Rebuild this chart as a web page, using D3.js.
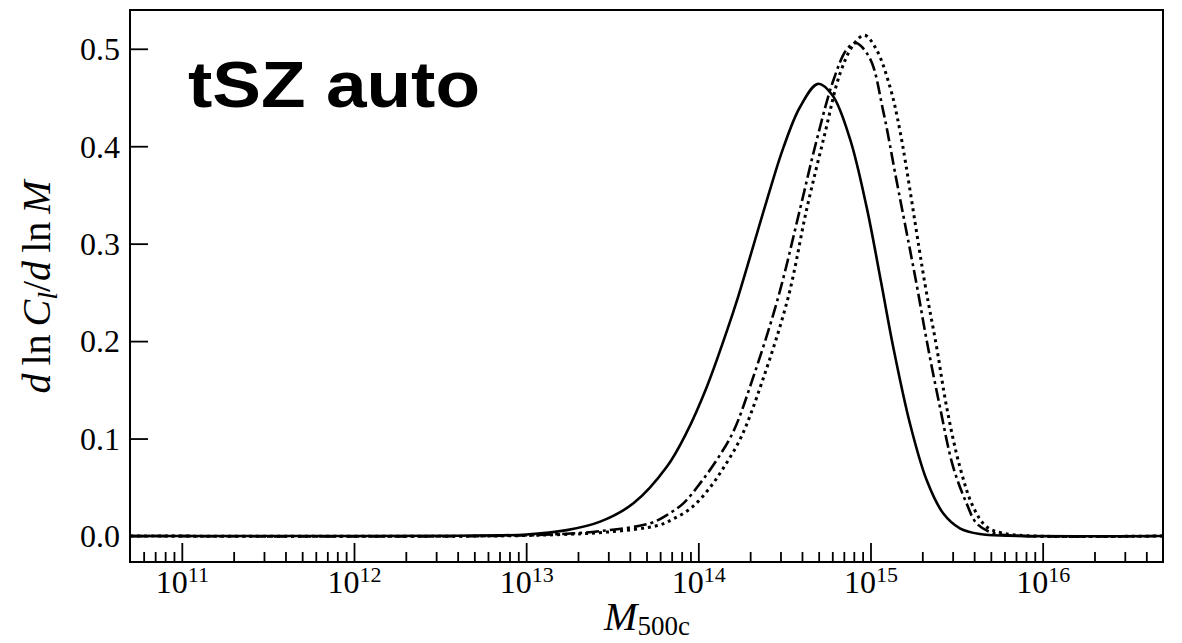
<!DOCTYPE html>
<html>
<head>
<meta charset="utf-8">
<script src="https://cdn.jsdelivr.net/npm/d3@7"></script>
<style>
  body { margin: 0; background: #fff; }
  svg { display: block; }
</style>
</head>
<body>
<div id="chart"></div>
<script>
// log10(M500c) and d lnC / d lnM
var solidLogM = [10.7, 12.0, 12.6, 13.0, 13.236, 13.43, 13.623, 13.817, 13.93, 14.049, 14.165, 14.232, 14.397, 14.493, 14.59, 14.695, 14.78, 14.88, 14.977, 15.06, 15.132, 15.229, 15.326, 15.422, 15.519, 15.635, 15.8, 16.7];
var solidVals = [0, 0, 0.0003, 0.0015, 0.006, 0.0147, 0.0335, 0.071, 0.1055, 0.153, 0.21, 0.246, 0.344, 0.398, 0.44, 0.464, 0.452, 0.408, 0.338, 0.262, 0.194, 0.1155, 0.0574, 0.0233, 0.0079, 0.002, 0.0003, 0];

var dashDotLogM = [10.7, 12.8, 13.2, 13.429, 13.72, 13.817, 13.913, 14.01, 14.107, 14.203, 14.319, 14.464, 14.59, 14.687, 14.784, 14.861, 14.915, 14.997, 15.074, 15.151, 15.267, 15.326, 15.403, 15.48, 15.558, 15.616, 15.712, 15.9, 16.7];
var dashDotVals = [0, 0, 0.002, 0.005, 0.013, 0.0215, 0.0335, 0.054, 0.078, 0.107, 0.163, 0.245, 0.335, 0.406, 0.4675, 0.499, 0.506, 0.49, 0.436, 0.365, 0.259, 0.201, 0.1326, 0.071, 0.0335, 0.013, 0.003, 0, 0];

var dottedLogM = [10.7, 12.8, 13.2, 13.47, 13.77, 13.86, 13.96, 14.06, 14.15, 14.25, 14.37, 14.522, 14.629, 14.735, 14.822, 14.9, 14.965, 15.035, 15.113, 15.171, 15.316, 15.384, 15.442, 15.519, 15.596, 15.674, 15.768, 15.95, 16.7];
var dottedVals = [0, 0, 0.0015, 0.004, 0.011, 0.018, 0.029, 0.048, 0.071, 0.102, 0.158, 0.245, 0.335, 0.413, 0.474, 0.504, 0.514, 0.499, 0.461, 0.416, 0.259, 0.194, 0.1326, 0.071, 0.030, 0.0095, 0.003, 0, 0];

var xTickExps = [11, 12, 13, 14, 15, 16];
var yTicks = [0, 0.1, 0.2, 0.3, 0.4, 0.5];
var titleText = "tSZ auto";

var W = 1182, H = 643;
var margin = {top: 10, right: 19, bottom: 81, left: 130};
var width = W - margin.left - margin.right;
var height = H - margin.top - margin.bottom;

var svg = d3.select("#chart").append("svg")
    .attr("width", W)
    .attr("height", H);

var g = svg.append("g")
    .attr("transform", "translate(" + margin.left + "," + margin.top + ")");

var x = d3.scaleLog()
    .domain([5e10, 5e16])
    .range([0, width]);

var y = d3.scaleLinear()
    .domain([-0.0267, 0.5398])
    .range([height, 0]);

// clip the curves to the frame
svg.append("defs").append("clipPath")
    .attr("id", "plotclip")
  .append("rect")
    .attr("width", width)
    .attr("height", height);

// minor ticks: 2..9 x 10^k inside the domain
var minorTicks = [];
for (var e = 10; e <= 16; e++) {
  for (var m = 2; m <= 9; m++) {
    var v = m * Math.pow(10, e);
    if (v > 5e10 && v < 5e16) minorTicks.push(v);
  }
}
var majorTicks = xTickExps.map(function(k) { return Math.pow(10, k); });

var tickStyle = function(sel) {
  sel.select(".domain").remove();
  sel.selectAll(".tick line").attr("stroke", "#000").attr("stroke-width", 1.8);
};

g.append("g")
    .attr("transform", "translate(0," + height + ")")
    .call(d3.axisBottom(x).tickValues(minorTicks).tickSize(-10).tickFormat(""))
    .call(tickStyle);

var xAxis = g.append("g")
    .attr("transform", "translate(0," + height + ")")
    .call(d3.axisBottom(x).tickValues(majorTicks).tickSize(-19).tickFormat(""))
    .call(tickStyle);

// 10^k labels
xAxis.selectAll(".tick").each(function(d, i) {
  var t = d3.select(this).append("text")
      .attr("y", 31)
      .attr("text-anchor", "middle")
      .attr("fill", "#000")
      .style("font-family", "'Liberation Serif', 'DejaVu Serif', serif")
      .style("font-size", "32px");
  t.append("tspan").text("10");
  t.append("tspan")
      .attr("dy", -11)
      .style("font-size", "22px")
      .text(xTickExps[i]);
});

var yAxis = g.append("g")
    .call(d3.axisLeft(y).tickValues(yTicks).tickSize(-18).tickPadding(10).tickFormat(d3.format(".1f")))
    .call(tickStyle);

yAxis.selectAll(".tick text")
    .attr("x", -10)
    .attr("dy", "0.34em")
    .attr("fill", "#000")
    .style("font-family", "'Liberation Serif', 'DejaVu Serif', serif")
    .style("font-size", "32px");

// curves
var line = d3.line()
    .x(function(d) { return x(Math.pow(10, d[0])); })
    .y(function(d) { return y(d[1]); })
    .curve(d3.curveCatmullRom.alpha(0.5));

var series = [
  {lm: dottedLogM, v: dottedVals, dash: "3,4", w: 3},
  {lm: dashDotLogM, v: dashDotVals, dash: "13,4,3,4", w: 2.6},
  {lm: solidLogM, v: solidVals, dash: null, w: 2.6}
];

var curves = g.append("g").attr("clip-path", "url(#plotclip)");
series.forEach(function(s) {
  var pts = s.lm.map(function(l, i) { return [l, s.v[i]]; });
  curves.append("path")
      .datum(pts)
      .attr("d", line)
      .attr("fill", "none")
      .attr("stroke", "#000")
      .attr("stroke-width", s.w)
      .attr("stroke-dasharray", s.dash);
});

// frame
g.append("rect")
    .attr("width", width)
    .attr("height", height)
    .attr("fill", "none")
    .attr("stroke", "#000")
    .attr("stroke-width", 2);

// title inside the axes
g.append("text")
    .attr("x", 58)
    .attr("y", 97)
    .attr("fill", "#000")
    .attr("textLength", 292)
    .attr("lengthAdjust", "spacingAndGlyphs")
    .style("font-family", "'Liberation Sans', Arial, sans-serif")
    .style("font-weight", "bold")
    .style("font-size", "64px")
    .text(titleText);

// axis labels
var serif = "'Liberation Serif', 'DejaVu Serif', serif";
var xl = svg.append("text")
    .attr("x", 647)
    .attr("y", 630)
    .attr("text-anchor", "middle")
    .attr("fill", "#000")
    .style("font-family", serif)
    .style("font-size", "40px");
xl.append("tspan").style("font-style", "italic").text("M");
xl.append("tspan").attr("dy", 5).style("font-size", "27px").text("500c");

var yl = svg.append("text")
    .attr("transform", "translate(50,287) rotate(-90)")
    .attr("text-anchor", "middle")
    .attr("fill", "#000")
    .style("font-family", serif)
    .style("font-size", "40px");
yl.append("tspan").style("font-style", "italic").text("d");
yl.append("tspan").text("\u2009ln\u2009");
yl.append("tspan").style("font-style", "italic").text("C");
yl.append("tspan").style("font-style", "italic").style("font-size", "28px").attr("dy", 7).text("l");
yl.append("tspan").attr("dy", -7).text("/");
yl.append("tspan").style("font-style", "italic").text("d");
yl.append("tspan").text("\u2009ln\u2009");
yl.append("tspan").style("font-style", "italic").text("M");
</script>
</body>
</html>
